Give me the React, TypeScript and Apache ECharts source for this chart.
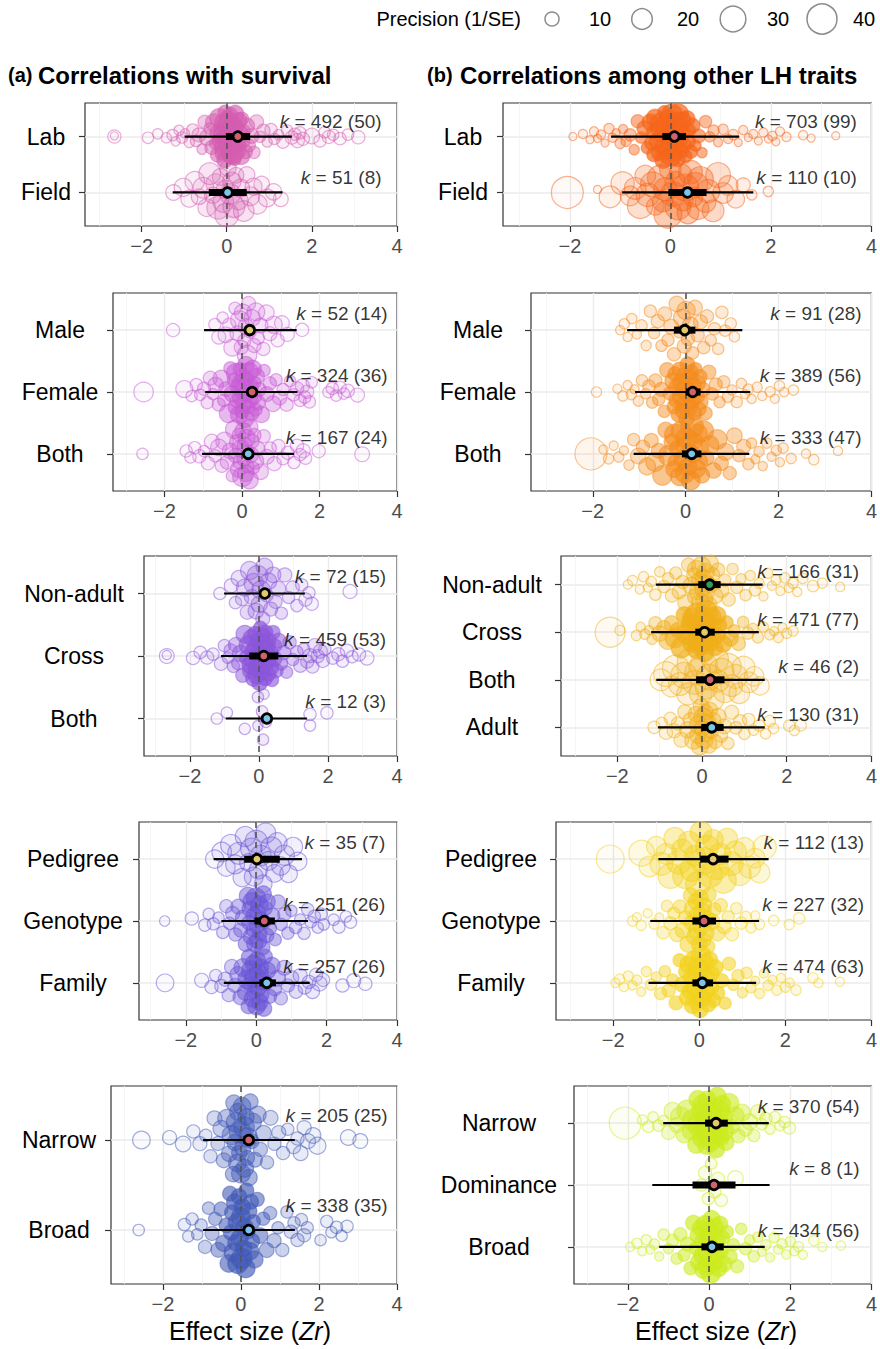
import React, { useEffect, useRef } from "react";
import * as echarts from "echarts";

// ---------------- DATA: [effect size Zr, precision 1/SE] ----------------
// (a) survival – study location
const survLocCats = ["Lab", "Field"];
const survLocK = [[492, 50], [51, 8]];
const survLocStats = [[0.26, -0.02, 0.55, -0.99, 1.53], [0.02, -0.42, 0.47, -1.27, 1.31]]; // mean, ciLo, ciHi, piLo, piHi
const survLab = [[-2.64,9],[-2.64,4],[-1.85,7],[-1.62,6],[-1.42,6],[-1.27,7],[-1.2,5],[-1.12,6],[-1.05,7],[-0.98,5],
 [-0.88,6],[-0.8,8],[-0.72,7],[-0.65,10],[-0.58,6],[-0.52,9],[-0.46,12],[-0.4,7],[-0.35,10],[-0.3,14],
 [-0.26,8],[-0.22,11],[-0.18,16],[-0.14,9],[-0.1,13],[-0.07,20],[-0.04,10],[-0.01,15],[0.02,12],[0.04,18],
 [0.07,9],[0.1,14],[0.13,22],[0.16,11],[0.19,8],[0.22,16],[0.26,12],[0.3,9],[0.34,14],[0.38,10],
 [0.42,7],[0.47,12],[0.52,9],[0.58,11],[0.64,8],[0.7,10],[0.78,7],[0.86,9],[0.95,6],[1.04,8],
 [1.12,7],[1.22,6],[1.32,8],[1.42,7],[1.53,9],[1.6,8],[1.66,10],[1.72,8],[1.79,9],[2.0,12],
 [2.19,8],[2.3,7],[2.4,9],[2.5,7],[2.66,8],[2.85,7],[3.09,9],
 [-0.21,11],[-0.15,13],[-0.12,9],[-0.05,12],[0,16],[0.01,10],[0.05,13],[0.08,11],[0.11,17],[0.14,9],[0.17,12],
 [0.2,14],[0.23,10],[0.28,13],[0.32,11],[0.36,9],[-0.08,15],[0.44,10]];
const survField = [[-1.25,12],[-1.02,16],[-0.88,14],[-0.75,18],[-0.65,12],[-0.55,20],[-0.47,15],[-0.4,22],[-0.33,13],[-0.26,18],
 [-0.2,24],[-0.14,14],[-0.08,20],[-0.03,16],[0,26],[0.03,13],[0.08,20],[0.12,16],[0.17,22],[0.22,12],
 [0.27,18],[0.33,15],[0.4,20],[0.47,13],[0.55,17],[0.63,14],[0.72,18],[0.82,12],[0.95,15],[1.1,13],[1.27,11]];

// (b) other LH traits – study location
const lhLocCats = ["Lab", "Field"];
const lhLocK = [[703, 99], [110, 10]];
const lhLocStats = [[0.08, -0.16, 0.31, -1.18, 1.37], [0.34, -0.04, 0.72, -0.96, 1.65]];
const lhLab = [[-1.94,4],[-1.74,5],[-1.6,4],[-1.52,5],[-1.45,4],[-1.38,5],[-1.3,4],[-1.22,6],[-1.15,5],[-1.08,4],[-1.0,6],[-0.94,5],
 [-0.88,6],[-0.8,8],[-0.72,6],[-0.65,9],[-0.58,7],[-0.52,11],[-0.46,8],[-0.4,13],[-0.35,9],[-0.3,15],[-0.25,10],[-0.2,18],
 [-0.16,12],[-0.12,9],[-0.08,20],[-0.04,14],[0,11],[0.03,22],[0.06,13],[0.1,16],[0.13,10],[0.16,19],[0.2,12],[0.24,15],
 [0.28,9],[0.33,13],[0.38,8],[0.44,11],[0.5,7],[0.56,10],[0.63,6],[0.7,8],[0.78,6],[0.86,7],[0.95,5],
 [1.05,6],[1.15,5],[1.25,6],[1.35,4],[1.45,5],[1.55,4],[1.65,5],[1.75,4],[1.85,5],[1.95,4],[2.03,5],[2.1,4],[2.18,5],[2.31,5],[2.64,5],[2.8,4],[3.29,4],
 [-0.22,12],[-0.18,10],[-0.14,14],[-0.1,11],[-0.06,16],[-0.02,12],[0.01,18],[0.05,10],[0.08,14],[0.11,12],[0.15,11],
 [0.18,13],[0.22,10],[0.26,12],[0.3,9],[-0.28,11],[0.36,10],[-0.33,10],[0.41,9],[-0.38,9]];
const lhField = [[-2.05,45],[-1.45,4],[-1.2,22],[-0.95,25],[-0.8,18],[-0.7,22],[-0.6,30],[-0.5,20],[-0.45,25],[-0.35,28],
 [-0.3,15],[-0.2,30],[-0.15,20],[-0.1,25],[-0.05,35],[0,22],[0.05,28],[0.1,18],[0.15,30],[0.2,24],[0.25,20],[0.3,32],
 [0.35,22],[0.4,26],[0.45,18],[0.5,28],[0.55,22],[0.6,30],[0.7,20],[0.75,25],[0.85,22],[0.95,28],[1.05,20],[1.15,18],
 [1.3,15],[1.45,10],[1.62,6],[1.95,6]];

// (a) survival – sex
const survSexCats = ["Male", "Female", "Both"];
const survSexK = [[52, 14], [324, 36], [167, 24]];
const survSexStats = [[0.2, 0.08, 0.32, -0.98, 1.41], [0.26, 0.14, 0.38, -0.95, 1.43], [0.16, 0.04, 0.28, -1.03, 1.34]];
const survMale = [[-1.78,9],[-0.7,8],[-0.6,10],[-0.5,7],[-0.42,12],[-0.33,9],[-0.25,14],[-0.18,8],[-0.12,11],[-0.06,16],
 [-0.02,10],[0.02,14],[0.06,9],[0.1,12],[0.13,18],[0.17,10],[0.21,8],[0.26,13],[0.31,10],[0.36,15],[0.42,8],[0.48,11],
 [0.55,9],[0.63,12],[0.72,10],[0.82,14],[0.92,9],[1.03,11],[1.17,10],[1.55,9]];
const survFemale = [[-2.54,18],[-1.49,14],[-1.3,7],[-1.18,8],[-1.08,7],[-0.98,9],
 [-0.9,8],[-0.82,10],[-0.75,7],[-0.68,12],[-0.6,9],[-0.53,14],[-0.47,8],[-0.41,11],[-0.35,16],[-0.3,9],[-0.25,13],
 [-0.2,10],[-0.15,18],[-0.1,12],[-0.06,9],[-0.02,15],[0.02,11],[0.06,20],[0.1,13],[0.14,9],[0.18,16],[0.23,11],
 [0.28,14],[0.33,8],[0.38,12],[0.44,10],[0.5,13],[0.57,8],[0.64,11],[0.72,9],[0.8,12],[0.88,8],[0.97,10],
 [1.06,8],[1.15,9],[1.24,7],[1.33,8],[1.42,9],[1.5,8],[1.56,10],[1.62,8],[1.68,9],[1.74,8],[1.8,7],
 [2.23,7],[2.33,8],[2.43,7],[2.53,8],[2.63,7],[2.73,9],[2.98,10],
 [-0.12,11],[-0.04,13],[0,10],[0.04,12],[0.08,15],[0.12,11],[0.16,9],[0.2,13],[0.25,10],[0.3,12],[0.35,9],[-0.08,14],[-0.18,10],[0.41,11]];
const survSexBoth = [[-2.57,7],[-1.44,8],[-1.33,7],[-1.22,8],[-1.1,9],[-0.98,7],[-0.88,9],[-0.78,11],[-0.69,8],[-0.6,13],
 [-0.52,9],[-0.45,15],[-0.38,10],[-0.31,12],[-0.25,8],[-0.19,16],[-0.13,11],[-0.08,9],[-0.03,14],[0.01,18],[0.05,10],
 [0.1,13],[0.14,9],[0.19,15],[0.24,11],[0.29,8],[0.35,13],[0.41,10],[0.48,12],[0.56,9],[0.64,11],[0.73,8],[0.83,10],
 [0.94,9],[1.06,8],[1.18,9],[1.34,8],[1.42,9],[1.5,8],[1.58,10],[1.64,8],[1.98,9],[3.1,11],
 [-0.1,12],[-0.05,10],[0.03,13],[0.07,11],[0.12,14],[0.16,9],[0.21,12],[0.26,10],[-0.16,11],[0.32,9]];

// (b) other LH traits – sex
const lhSexCats = ["Male", "Female", "Both"];
const lhSexK = [[91, 28], [389, 56], [333, 47]];
const lhSexStats = [[-0.02, -0.25, 0.21, -1.26, 1.22], [0.15, 0.0, 0.32, -1.09, 1.39], [0.13, -0.08, 0.34, -1.12, 1.37]];
const lhMale = [[-1.41,5],[-1.32,6],[-1.25,5],[-1.16,6],[-1.05,5],[-0.95,7],[-0.85,6],[-0.76,8],[-0.68,7],[-0.6,9],
 [-0.52,7],[-0.45,10],[-0.38,8],[-0.31,11],[-0.25,9],[-0.19,12],[-0.13,8],[-0.08,14],[-0.03,10],[0.01,16],[0.05,9],
 [0.1,12],[0.15,8],[0.2,11],[0.26,9],[0.32,10],[0.39,8],[0.46,9],[0.54,7],[0.62,8],[0.7,7],[0.78,8],[0.85,7],[0.97,7],[1.05,6]];
const lhFemale = [[-1.92,6],[-1.47,5],[-1.35,6],[-1.25,5],[-1.17,6],[-1.1,5],[-1.02,6],[-0.94,7],[-0.86,6],[-0.79,8],
 [-0.72,7],[-0.65,9],[-0.58,8],[-0.52,10],[-0.46,8],[-0.4,11],[-0.34,9],[-0.28,12],[-0.23,10],[-0.18,14],[-0.13,11],
 [-0.08,16],[-0.04,12],[0,18],[0.04,11],[0.08,15],[0.12,10],[0.16,13],[0.21,9],[0.26,12],[0.31,10],[0.37,11],[0.43,9],
 [0.5,10],[0.57,8],[0.65,9],[0.73,7],[0.82,8],[0.91,7],[1.0,6],[1.1,7],[1.2,6],[1.28,5],[1.35,6],[1.42,5],[1.54,6],
 [1.65,5],[1.82,6],[1.92,5],[2.02,6],[2.12,5],[2.32,6],
 [-0.15,12],[-0.1,14],[-0.06,11],[-0.02,15],[0.02,12],[0.06,16],[0.1,11],[0.14,13],[0.19,10],[0.24,12],[-0.2,11],[0.29,10],[-0.25,10],[0.34,9]];
const lhSexBoth = [[-2.04,45],[-1.77,5],[-1.66,6],[-1.55,5],[-1.44,6],[-1.33,5],[-1.22,6],[-1.12,8],[-1.02,12],[-0.92,9],
 [-0.83,14],[-0.74,10],[-0.66,16],[-0.58,11],[-0.5,18],[-0.43,12],[-0.36,20],[-0.29,13],[-0.22,22],[-0.16,14],[-0.1,18],
 [-0.04,12],[0.02,20],[0.08,14],[0.14,24],[0.2,12],[0.26,18],[0.32,13],[0.38,20],[0.45,11],[0.52,16],[0.6,12],[0.68,18],
 [0.77,10],[0.86,14],[0.95,9],[1.05,12],[1.15,8],[1.25,10],[1.35,7],[1.42,6],[1.5,5],[1.58,6],[1.66,5],[1.75,6],[1.85,5],
 [1.95,6],[2.03,5],[2.1,6],[2.27,6],[2.59,5],[2.76,6],[3.28,5],
 [-0.13,16],[-0.07,14],[-0.01,18],[0.05,15],[0.11,17],[0.17,13],[0.23,16],[-0.19,15],[0.29,14],[-0.25,13],[0.35,12]];

// (a) survival – age class
const survAgeCats = ["Non-adult", "Cross", "Both"];
const survAgeK = [[72, 15], [459, 53], [12, 3]];
const survAgeStats = [[0.17, 0.05, 0.3, -1.01, 1.33], [0.14, -0.28, 0.56, -1.1, 1.39], [0.23, 0.1, 0.36, -0.96, 1.39]];
const survNonadult = [[-1.13,8],[-0.8,10],[-0.68,8],[-0.58,12],[-0.49,9],[-0.41,14],[-0.34,10],[-0.27,16],[-0.21,11],
 [-0.15,18],[-0.09,12],[-0.04,20],[0.01,13],[0.06,16],[0.11,10],[0.16,14],[0.22,9],[0.28,13],[0.34,10],[0.41,12],
 [0.48,9],[0.56,11],[0.65,8],[0.75,10],[0.86,8],[0.98,9],[1.1,8],[1.24,8],[1.35,9],[1.45,8],[1.53,9],[2.64,10]];
const survCross = [[-2.67,11],[-2.67,5],[-1.91,9],[-1.7,8],[-1.5,9],[-1.33,8],[-1.1,9],[-1.0,8],[-0.9,7],[-0.82,9],
 [-0.74,8],[-0.67,11],[-0.6,9],[-0.53,13],[-0.47,10],[-0.41,15],[-0.35,11],[-0.3,17],[-0.25,12],[-0.2,19],[-0.15,13],
 [-0.1,21],[-0.06,14],[-0.02,18],[0.02,12],[0.06,22],[0.1,13],[0.14,17],[0.18,11],[0.23,15],[0.28,10],[0.33,14],
 [0.38,9],[0.44,12],[0.5,10],[0.57,11],[0.64,9],[0.72,10],[0.8,8],[0.89,9],[0.98,8],[1.1,8],[1.2,9],[1.3,8],[1.4,9],
 [1.48,10],[1.55,9],[1.62,10],[1.7,9],[1.78,10],[1.85,9],[1.91,8],[2.14,8],[2.3,9],[2.42,8],[2.55,9],[2.7,8],[2.9,9],[3.13,10],
 [-0.18,12],[-0.12,10],[-0.08,14],[-0.04,11],[0,15],[0.04,10],[0.08,13],[0.12,11],[0.16,16],[0.2,10],[0.25,12],
 [0.3,9],[0.35,11],[-0.22,13],[0.41,10],[0.47,9]];
const survAgeBoth = [[-1.22,7],[-0.93,7],[-0.41,7],[-0.03,7],[-0.03,6],[0.09,7],[0.12,7],[0.15,6],[0.2,7],[1.48,8],[1.48,7],[1.97,8]];

// (b) other LH traits – age class
const lhAgeCats = ["Non-adult", "Cross", "Both", "Adult"];
const lhAgeK = [[166, 31], [471, 77], [46, 2], [130, 31]];
const lhAgeStats = [[0.18, -0.09, 0.44, -1.09, 1.43], [0.06, -0.16, 0.3, -1.2, 1.34], [0.19, -0.14, 0.53, -1.08, 1.48], [0.23, -0.02, 0.51, -1.04, 1.48]];
const lhNonadult = [[-1.75,5],[-1.64,6],[-1.47,5],[-1.38,6],[-1.28,5],[-1.2,6],[-1.1,7],[-1.0,6],[-0.9,8],[-0.8,7],
 [-0.71,9],[-0.62,8],[-0.54,10],[-0.46,9],[-0.39,12],[-0.32,10],[-0.25,14],[-0.19,11],[-0.13,16],[-0.07,12],[-0.02,18],
 [0.03,13],[0.08,15],[0.13,11],[0.19,14],[0.25,10],[0.31,12],[0.38,9],[0.46,11],[0.54,8],[0.63,9],[0.72,7],[0.82,8],
 [0.92,6],[1.03,7],[1.14,6],[1.25,7],[1.35,6],[1.45,5],[1.55,6],[1.65,5],[1.75,6],[1.85,5],[1.95,6],[2.05,5],[2.15,6],
 [2.25,5],[2.38,6],[2.62,7],[2.84,6],[3.26,5],
 [-0.1,13],[-0.04,15],[0.01,12],[0.05,14],[0.1,11],[0.16,13],[0.22,10],[-0.16,12]];
const lhCross = [[-2.17,40],[-1.94,6],[-1.55,6],[-1.45,5],[-1.35,6],[-1.25,5],[-1.18,6],[-1.1,9],[-1.0,12],[-0.9,10],
 [-0.81,15],[-0.72,11],[-0.64,18],[-0.56,12],[-0.49,20],[-0.42,13],[-0.35,22],[-0.29,14],[-0.23,18],[-0.17,12],[-0.11,25],
 [-0.06,14],[0,20],[0.05,13],[0.1,22],[0.16,12],[0.22,18],[0.28,11],[0.35,16],[0.42,10],[0.5,14],[0.58,9],[0.67,12],
 [0.76,8],[0.86,10],[0.97,7],[1.08,8],[1.2,6],[1.32,7],[1.45,6],[1.6,6],[1.7,5],[1.8,6],[1.9,5],[2.0,6],[2.15,6],
 [-0.14,15],[-0.08,18],[-0.03,14],[0.02,19],[0.07,15],[0.13,17],[0.19,13],[0.25,15],[-0.2,14],[0.31,12],[-0.26,13],[0.38,11]];
const lhAgeBoth = [[-0.97,22],[-0.85,28],[-0.72,20],[-0.62,32],[-0.52,24],[-0.43,30],[-0.34,22],[-0.26,35],[-0.18,26],
 [-0.1,30],[-0.03,24],[0.04,34],[0.1,22],[0.17,30],[0.24,26],[0.31,32],[0.38,22],[0.46,28],[0.54,24],[0.62,30],[0.7,22],
 [0.79,26],[0.88,20],[0.98,24],[1.1,20],[1.23,18],[1.37,16]];
const lhAdult = [[-1.13,8],[-0.95,7],[-0.85,9],[-0.75,8],[-0.66,10],[-0.57,9],[-0.49,11],[-0.41,10],[-0.34,13],[-0.27,11],
 [-0.2,15],[-0.14,12],[-0.08,16],[-0.02,13],[0.03,18],[0.08,12],[0.13,15],[0.19,11],[0.25,14],[0.31,10],[0.38,12],
 [0.45,9],[0.53,11],[0.61,8],[0.7,10],[0.8,8],[0.9,9],[1.0,7],[1.1,8],[1.22,6],[1.35,7],[1.5,6],[1.6,7],[1.69,6],
 [2.06,7],[2.18,6],[2.33,7],
 [-0.05,14],[0,12],[0.05,15],[0.1,11],[0.16,13],[0.22,10],[-0.11,12]];

// (a) survival – relatedness
const survRelCats = ["Pedigree", "Genotype", "Family"];
const survRelK = [[35, 7], [251, 26], [257, 26]];
const survRelStats = [[0.02, -0.34, 0.67, -1.21, 1.3], [0.23, -0.05, 0.53, -0.99, 1.47], [0.3, 0.09, 0.56, -0.92, 1.52]];
const survPedigree = [[-1.18,16],[-0.98,18],[-0.85,15],[-0.72,20],[-0.6,17],[-0.5,22],[-0.4,16],[-0.31,19],[-0.22,15],
 [-0.14,21],[-0.07,17],[0,23],[0.06,16],[0.13,20],[0.2,15],[0.27,19],[0.35,17],[0.43,21],[0.52,15],[0.6,18],[0.7,16],
 [0.8,19],[0.92,15],[1.05,17],[1.18,16]];
const survGenotype = [[-2.6,6],[-1.83,9],[-1.46,8],[-1.35,7],[-1.22,8],[-1.07,7],[-0.95,8],[-0.85,9],[-0.76,8],[-0.67,10],
 [-0.59,9],[-0.51,11],[-0.44,10],[-0.37,12],[-0.3,11],[-0.24,14],[-0.18,12],[-0.12,16],[-0.06,13],[-0.01,18],[0.04,12],
 [0.09,15],[0.14,11],[0.2,13],[0.26,10],[0.32,12],[0.39,9],[0.46,11],[0.54,8],[0.62,10],[0.71,8],[0.8,9],[0.9,8],[1.0,7],
 [1.12,8],[1.25,7],[1.36,8],[1.46,8],[1.55,7],[1.65,8],[1.75,7],[1.85,8],[1.92,7],[2.2,7],[2.35,8],[2.55,7],[2.68,8],
 [-0.15,12],[-0.09,10],[-0.04,13],[0.01,11],[0.06,14],[0.11,10],[0.17,12],[0.23,9],[0.29,11],[-0.21,10]];
const survFamily = [[-2.59,15],[-1.55,10],[-1.27,9],[-1.15,8],[-0.99,9],[-0.88,10],[-0.78,9],[-0.69,11],[-0.6,10],[-0.52,13],
 [-0.45,11],[-0.38,15],[-0.31,12],[-0.25,17],[-0.19,13],[-0.13,19],[-0.07,14],[-0.02,20],[0.03,13],[0.08,17],[0.13,12],
 [0.19,15],[0.25,11],[0.31,14],[0.38,10],[0.45,13],[0.53,9],[0.61,12],[0.7,9],[0.8,11],[0.9,9],[1.01,10],[1.13,9],[1.25,10],
 [1.38,9],[1.5,9],[1.6,10],[1.7,9],[1.8,11],[1.9,9],[2.45,9],[2.77,10],[3.1,9],
 [-0.16,12],[-0.1,14],[-0.04,11],[0.01,15],[0.05,12],[0.1,13],[0.16,10],[0.22,12],[0.28,9],[-0.22,11]];

// (b) other LH traits – relatedness
const lhRelCats = ["Pedigree", "Genotype", "Family"];
const lhRelK = [[112, 13], [227, 32], [474, 63]];
const lhRelStats = [[0.32, 0.02, 0.68, -0.95, 1.61], [0.11, -0.16, 0.39, -1.14, 1.39], [0.07, -0.16, 0.32, -1.18, 1.32]];
const lhPedigree = [[-2.07,35],[-1.34,30],[-1.16,20],[-1.0,18],[-0.88,24],[-0.77,20],[-0.67,28],[-0.57,22],[-0.48,26],
 [-0.4,20],[-0.32,30],[-0.24,22],[-0.17,26],[-0.1,20],[-0.03,28],[0.04,22],[0.11,32],[0.18,24],[0.25,28],[0.32,20],
 [0.4,26],[0.48,22],[0.56,30],[0.65,20],[0.74,26],[0.84,22],[0.94,24],[1.05,20],[1.17,22],[1.3,18],[1.4,20],[1.52,25]];
const lhGenotype = [[-1.55,6],[-1.45,5],[-1.35,6],[-1.2,5],[-1.05,6],[-0.93,5],[-0.84,8],[-0.75,7],[-0.67,9],[-0.59,8],
 [-0.52,10],[-0.45,9],[-0.38,12],[-0.32,10],[-0.26,13],[-0.2,11],[-0.14,15],[-0.08,12],[-0.03,16],[0.02,13],[0.07,15],
 [0.12,11],[0.17,14],[0.23,10],[0.29,13],[0.35,9],[0.42,11],[0.5,9],[0.58,10],[0.67,8],[0.76,9],[0.86,7],[0.97,8],
 [1.08,7],[1.2,6],[1.3,5],[1.4,6],[1.73,6],[2.09,6],[2.32,7],
 [-0.11,13],[-0.05,14],[0,12],[0.05,15],[0.1,11],[0.15,13],[0.2,10],[-0.17,12]];
const lhFamily = [[-1.95,5],[-1.85,6],[-1.75,5],[-1.65,6],[-1.55,5],[-1.45,6],[-1.35,5],[-1.23,6],[-1.12,7],[-1.0,6],
 [-0.9,8],[-0.8,7],[-0.71,9],[-0.62,8],[-0.54,10],[-0.46,9],[-0.39,12],[-0.32,10],[-0.26,13],[-0.2,11],[-0.14,15],
 [-0.09,12],[-0.04,17],[0,13],[0.04,18],[0.08,12],[0.13,15],[0.18,11],[0.24,13],[0.3,10],[0.37,12],[0.44,9],[0.52,10],
 [0.6,8],[0.69,9],[0.79,7],[0.9,8],[1.0,6],[1.1,7],[1.2,6],[1.3,5],[1.4,6],[1.5,5],[1.6,6],[1.7,5],[1.8,6],[1.9,5],
 [2.0,6],[2.1,5],[2.25,6],[2.64,6],[2.77,5],[3.27,5],
 [-0.16,13],[-0.11,14],[-0.06,12],[-0.02,16],[0.02,13],[0.06,15],[0.1,12],[0.15,13],[0.21,11],[0.27,12],[-0.22,12],[0.33,10],[-0.29,11]];

// (a) survival – heritability
const survHerCats = ["Narrow", "Broad"];
const survHerK = [[205, 25], [338, 35]];
const survHerStats = [[0.2, 0.06, 0.34, -0.97, 1.38], [0.2, 0.06, 0.34, -0.97, 1.38]];
const survNarrow = [[-2.55,15],[-1.83,10],[-1.48,12],[-1.22,9],[-1.05,10],[-0.9,8],[-0.78,9],[-0.68,11],[-0.59,10],
 [-0.51,13],[-0.44,11],[-0.37,15],[-0.3,12],[-0.24,17],[-0.18,13],[-0.12,19],[-0.07,14],[-0.02,22],[0.03,15],[0.08,20],
 [0.13,13],[0.18,17],[0.24,12],[0.3,15],[0.36,11],[0.43,14],[0.5,10],[0.58,12],[0.67,9],[0.76,11],[0.86,9],[0.97,10],
 [1.08,9],[1.2,8],[1.35,10],[1.45,9],[1.53,11],[1.62,10],[1.72,11],[1.85,12],[1.96,14],[2.75,12],[3.06,11],
 [-0.15,13],[-0.09,15],[-0.04,12],[0,17],[0.05,13],[0.1,15],[0.16,11],[0.21,13],[-0.2,12],[0.27,11]];
const survBroad = [[-2.62,7],[-1.45,8],[-1.35,7],[-1.25,8],[-1.12,7],[-1.02,8],[-0.92,9],[-0.83,8],[-0.74,10],[-0.66,9],
 [-0.58,11],[-0.51,10],[-0.44,13],[-0.37,11],[-0.31,15],[-0.25,12],[-0.19,17],[-0.13,13],[-0.08,19],[-0.03,14],[0.02,20],
 [0.07,13],[0.12,17],[0.17,12],[0.23,15],[0.29,11],[0.35,14],[0.42,10],[0.49,12],[0.57,9],[0.66,11],[0.75,9],[0.85,10],
 [0.95,8],[1.06,9],[1.18,8],[1.28,9],[1.36,8],[1.45,9],[1.55,8],[1.62,9],[1.7,8],[2.04,7],[2.2,8],[2.32,7],[2.45,8],
 [2.58,7],[2.72,8],
 [-0.16,13],[-0.1,15],[-0.05,12],[0,17],[0.04,13],[0.09,15],[0.14,11],[0.2,13],[-0.22,12],[0.26,11],[0.32,10],[-0.28,11]];

// (b) other LH traits – heritability
const lhHerCats = ["Narrow", "Dominance", "Broad"];
const lhHerK = [[370, 54], [8, 1], [434, 56]];
const lhHerStats = [[0.17, -0.1, 0.46, -1.13, 1.47], [0.12, -0.41, 0.65, -1.4, 1.49], [0.07, -0.19, 0.36, -1.23, 1.37]];
const lhNarrow = [[-2.07,45],[-1.64,6],[-1.5,7],[-1.38,6],[-1.25,7],[-1.12,6],[-1.0,10],[-0.9,14],[-0.8,11],[-0.71,18],
 [-0.62,12],[-0.54,20],[-0.46,13],[-0.39,22],[-0.32,14],[-0.25,24],[-0.19,15],[-0.13,22],[-0.07,14],[-0.01,26],[0.05,15],
 [0.11,24],[0.17,14],[0.23,22],[0.29,13],[0.35,20],[0.42,12],[0.49,18],[0.56,11],[0.64,16],[0.72,10],[0.81,14],[0.9,9],
 [1.0,12],[1.1,8],[1.2,10],[1.3,7],[1.4,8],[1.5,6],[1.62,7],[1.75,6],[1.86,7],[1.98,8],
 [-0.16,18],[-0.1,20],[-0.04,16],[0.02,22],[0.08,17],[0.14,19],[0.2,15],[0.26,18],[-0.22,16],[0.32,14],[-0.28,15],[0.39,13]];
const lhDominance = [[-0.19,8],[-0.1,9],[-0.02,8],[0.05,7],[0.14,8],[0.22,9],[0.3,8],[0.65,12]];
const lhBroad = [[-1.95,5],[-1.78,6],[-1.65,5],[-1.55,6],[-1.45,5],[-1.35,6],[-1.23,5],[-1.12,7],[-1.0,6],[-0.9,8],
 [-0.8,7],[-0.71,9],[-0.62,8],[-0.54,10],[-0.46,9],[-0.39,12],[-0.32,10],[-0.26,13],[-0.2,11],[-0.14,15],[-0.09,12],
 [-0.04,17],[0,13],[0.04,18],[0.08,12],[0.13,15],[0.18,11],[0.24,13],[0.3,10],[0.37,12],[0.44,9],[0.52,10],[0.6,8],
 [0.69,9],[0.79,7],[0.9,8],[1.0,6],[1.1,7],[1.2,6],[1.3,5],[1.4,6],[1.5,5],[1.6,6],[1.7,5],[1.8,6],[1.9,5],[2.0,6],
 [2.1,5],[2.2,6],[2.31,5],[2.58,6],[2.79,5],[3.25,5],
 [-0.16,13],[-0.11,14],[-0.06,12],[-0.02,16],[0.02,13],[0.06,15],[0.1,12],[0.15,13],[0.21,11],[0.27,12],[-0.22,12],[0.33,10],[-0.29,11]];

// axis / legend values
const X_TICKS = [-2, 0, 2, 4];
const X_MINOR = [-3, -1, 1, 3];
const LEGEND_PREC = [10, 20, 30, 40];

// ---------------- STYLE ----------------
const FONT = '"Liberation Sans", Arial, Helvetica, sans-serif';
const X_MIN = -3.33;
const X_MAX = 4;
const SURV_COLORS = ["#D45DB0", "#C85BD5", "#8C56DA", "#6A56D6", "#4159B6"];
const LH_COLORS = ["#F5661B", "#F48C1E", "#F0AE19", "#F2D11E", "#CCEB1F"];
const MEAN_FILLS_FROM_BOTTOM = ["#7BC6E8", "#CF636C", "#E2C96A", "#2E9D5B"];

const PANELS = [
  { cats: survLocCats, groups: [survLab, survField], stats: survLocStats, k: survLocK, color: SURV_COLORS[0], grid: { left: 85, top: 103, width: 312, height: 123 }, lm: 39, kx: 3.65 },
  { cats: lhLocCats, groups: [lhLab, lhField], stats: lhLocStats, k: lhLocK, color: LH_COLORS[0], grid: { left: 503, top: 103, width: 374, height: 123 }, lm: 40, kx: 3.72 },
  { cats: survSexCats, groups: [survMale, survFemale, survSexBoth], stats: survSexStats, k: survSexK, color: SURV_COLORS[1], grid: { left: 113, top: 293, width: 284, height: 198 }, lm: 53, kx: 3.77 },
  { cats: lhSexCats, groups: [lhMale, lhFemale, lhSexBoth], stats: lhSexStats, k: lhSexK, color: LH_COLORS[1], grid: { left: 531, top: 293, width: 346, height: 198 }, lm: 53, kx: 3.8 },
  { cats: survAgeCats, groups: [survNonadult, survCross, survAgeBoth], stats: survAgeStats, k: survAgeK, color: SURV_COLORS[2], grid: { left: 144, top: 556, width: 253, height: 200 }, lm: 70, kx: 3.7 },
  { cats: lhAgeCats, groups: [lhNonadult, lhCross, lhAgeBoth, lhAdult], stats: lhAgeStats, k: lhAgeK, color: LH_COLORS[2], grid: { left: 561, top: 556, width: 316, height: 200 }, lm: 69, kx: 3.72 },
  { cats: survRelCats, groups: [survPedigree, survGenotype, survFamily], stats: survRelStats, k: survRelK, color: SURV_COLORS[3], grid: { left: 139, top: 822, width: 258, height: 198 }, lm: 66, kx: 3.68 },
  { cats: lhRelCats, groups: [lhPedigree, lhGenotype, lhFamily], stats: lhRelStats, k: lhRelK, color: LH_COLORS[3], grid: { left: 556, top: 822, width: 321, height: 198 }, lm: 65, kx: 3.84 },
  { cats: survHerCats, groups: [survNarrow, survBroad], stats: survHerStats, k: survHerK, color: SURV_COLORS[4], grid: { left: 111, top: 1086, width: 286, height: 198 }, lm: 52, kx: 3.77 },
  { cats: lhHerCats, groups: [lhNarrow, lhDominance, lhBroad], stats: lhHerStats, k: lhHerK, color: LH_COLORS[4], grid: { left: 574, top: 1086, width: 303, height: 198 }, lm: 75, kx: 3.72 },
];

// ---------------- HELPERS ----------------
function sizeOf(p: number) {
  return Math.max(4, -2 + 5.06 * Math.sqrt(p));
}
function rgba(hex: string, a: number) {
  const h = hex.replace("#", "");
  const r = parseInt(h.slice(0, 2), 16), g = parseInt(h.slice(2, 4), 16), b = parseInt(h.slice(4, 6), 16);
  return `rgba(${r},${g},${b},${a.toFixed(3)})`;
}
function vanDerCorput(i: number) {
  let q = 0, bk = 0.5, k = i;
  while (k > 0) { q += (k % 2) * bk; k = Math.floor(k / 2); bk /= 2; }
  return q;
}
// quasirandom (ggbeeswarm-style) layout: deterministic offsets scaled by kernel density
function swarmLayout(vals: number[], width = 0.46, adjust = 1.6) {
  const n = vals.length;
  if (n < 2) return { off: vals.map(() => 0), dr: vals.map(() => 1) };
  const mean = vals.reduce((s, v) => s + v, 0) / n;
  const sd = Math.sqrt(vals.reduce((s, v) => s + (v - mean) ** 2, 0) / (n - 1));
  const sorted = [...vals].sort((a, b) => a - b);
  const q = (p: number) => { const h = (n - 1) * p; const lo = Math.floor(h); const hi = Math.min(lo + 1, n - 1); return sorted[lo] + (h - lo) * (sorted[hi] - sorted[lo]); };
  const iqr = q(0.75) - q(0.25);
  let lo = Math.min(sd, iqr / 1.34);
  if (!(lo > 0)) lo = sd > 0 ? sd : 1;
  const bw = adjust * 0.9 * lo * Math.pow(n, -0.2);
  const dens = (x: number) => vals.reduce((s, v) => s + Math.exp(-0.5 * ((x - v) / bw) ** 2), 0);
  let maxD = 0;
  const a = sorted[0] - 3 * bw, b = sorted[n - 1] + 3 * bw;
  for (let i = 0; i <= 512; i++) maxD = Math.max(maxD, dens(a + ((b - a) * i) / 512));
  const order = vals.map((v, i) => i).sort((i, j) => vals[i] - vals[j] || i - j);
  const rank = new Array(n);
  order.forEach((idx, r) => { rank[idx] = r; });
  const dr = vals.map((v) => dens(v) / maxD);
  return { off: vals.map((v, i) => (vanDerCorput(rank[i] + 1) - 0.5) * 2 * width * dr[i]), dr };
}
const fmtX = (v: number) => (v < 0 ? "\u2212" + Math.abs(v) : String(v));

function buildOption() {
  const grid: any[] = [], xAxis: any[] = [], yAxis: any[] = [], series: any[] = [];
  PANELS.forEach((P, p) => {
    const n = P.cats.length;
    const catVals = P.cats.map((_, i) => i + 1);
    grid.push({ ...P.grid, show: true, borderColor: "#333333", borderWidth: 1.2, backgroundColor: "#ffffff", containLabel: false });
    xAxis.push({
      gridIndex: p, type: "value", min: X_MIN, max: X_MAX,
      axisLine: { show: false, onZero: false },
      splitLine: { show: false },
      axisTick: { show: true, customValues: X_TICKS, length: 6, lineStyle: { color: "#333333", width: 1.2 } },
      axisLabel: { customValues: X_TICKS, formatter: fmtX, color: "#4D4D4D", fontSize: 20, lineHeight: 20, fontFamily: FONT, margin: 10 },
    });
    yAxis.push({
      gridIndex: p, type: "value", min: 0.4, max: n + 0.6, inverse: true,
      axisLine: { show: false, onZero: false },
      splitLine: { show: false },
      axisTick: { show: true, customValues: catVals, length: 6, lineStyle: { color: "#333333", width: 1.2 } },
      axisLabel: { customValues: catVals, formatter: (v: number) => P.cats[Math.round(v) - 1] ?? "", align: "center", margin: P.lm, color: "#000000", fontSize: 23, fontFamily: FONT },
    });
    // grid lines
    series.push({
      type: "line", xAxisIndex: p, yAxisIndex: p, data: [], silent: true,
      markLine: {
        silent: true, symbol: ["none", "none"], z: 1, animation: false, label: { show: false },
        emphasis: { disabled: true },
        data: [
          ...X_MINOR.map((v) => ({ xAxis: v, lineStyle: { color: "#F3F3F3", width: 0.8, type: "solid" } })),
          ...X_TICKS.map((v) => ({ xAxis: v, lineStyle: { color: "#EBEBEB", width: 1.4, type: "solid" } })),
          ...catVals.map((v) => ({ yAxis: v, lineStyle: { color: "#EBEBEB", width: 1.6, type: "solid" } })),
        ],
      },
    });
    // points (beeswarm); each drawn point stands for k/n effect sizes, so its fill
    // opacity grows with local overlap (density) to mimic the stacked rings
    P.groups.forEach((g, i) => {
      const { off, dr } = swarmLayout(g.map((d) => d[0]));
      const w = P.k[i][0] / g.length;
      series.push({
        type: "scatter", xAxisIndex: p, yAxisIndex: p, z: 2, clip: true, silent: true, symbol: "circle",
        symbolSize: (v: number[]) => sizeOf(v[2]),
        data: g.map((d, j) => ({
          value: [d[0], i + 1 + off[j], d[1]],
          itemStyle: { color: rgba(P.color, Math.min(0.88, 0.03 + 0.14 * w * Math.pow(dr[j], 1.5))) },
        })),
        itemStyle: { borderColor: rgba(P.color, 0.62), borderWidth: 1.2 },
      });
    });
    // zero line
    series.push({
      type: "line", xAxisIndex: p, yAxisIndex: p, data: [], silent: true,
      markLine: {
        silent: true, symbol: ["none", "none"], z: 3, animation: false, label: { show: false },
        data: [{ xAxis: 0, lineStyle: { color: "#555555", width: 1.6, type: [6, 4] } }],
      },
    });
    // summary: prediction interval, confidence interval, mean
    series.push({
      type: "custom", xAxisIndex: p, yAxisIndex: p, z: 4, silent: true,
      data: P.stats.map((s, i) => [...s, i + 1]),
      encode: { x: [0, 1, 2, 3, 4], y: 5 },
      renderItem: (params: any, api: any) => {
        const y = api.value(5);
        const idx = Math.round(y) - 1;
        const pl = api.coord([api.value(3), y]), ph = api.coord([api.value(4), y]);
        const cl = api.coord([api.value(1), y]), ch = api.coord([api.value(2), y]);
        const m = api.coord([api.value(0), y]);
        return {
          type: "group",
          children: [
            { type: "line", shape: { x1: pl[0], y1: pl[1], x2: ph[0], y2: ph[1] }, style: { stroke: "#000", lineWidth: 2.2 } },
            { type: "line", shape: { x1: cl[0], y1: cl[1], x2: ch[0], y2: ch[1] }, style: { stroke: "#000", lineWidth: 7 } },
            { type: "circle", shape: { cx: m[0], cy: m[1], r: 4.8 }, style: { fill: MEAN_FILLS_FROM_BOTTOM[n - 1 - idx], stroke: "#000", lineWidth: 2.8 } },
          ],
        };
      },
    });
    // k labels
    series.push({
      type: "scatter", xAxisIndex: p, yAxisIndex: p, z: 6, silent: true, clip: false, symbolSize: 1,
      itemStyle: { color: "rgba(0,0,0,0)" },
      data: P.k.map((kk, i) => ({ value: [P.kx, i + 1 - 0.27], label: { formatter: `{i|k} = ${kk[0]} (${kk[1]})` } })),
      label: {
        show: true, position: "left", distance: 0, color: "#000", fontSize: 19, fontFamily: FONT,
        rich: { i: { fontStyle: "italic", fontSize: 19, fontFamily: FONT, color: "#000" } },
      },
    });
  });

  const legendX = [552, 642, 733, 822];
  const legendTX = [600, 688, 778, 864];
  const graphic: any[] = [
    { type: "text", x: 8, y: 75, style: { text: "(a)", fontSize: 20, fontWeight: "bold", fontFamily: FONT, fill: "#000", textAlign: "left", textVerticalAlign: "middle" } },
    { type: "text", x: 38, y: 75, style: { text: "Correlations with survival", fontSize: 24, fontWeight: "bold", fontFamily: FONT, fill: "#000", textAlign: "left", textVerticalAlign: "middle" } },
    { type: "text", x: 427, y: 75, style: { text: "(b)", fontSize: 20, fontWeight: "bold", fontFamily: FONT, fill: "#000", textAlign: "left", textVerticalAlign: "middle" } },
    { type: "text", x: 460, y: 75, style: { text: "Correlations among other LH traits", fontSize: 24, fontWeight: "bold", fontFamily: FONT, fill: "#000", textAlign: "left", textVerticalAlign: "middle" } },
    { type: "text", x: 521, y: 19, style: { text: "Precision (1/SE)", fontSize: 20, fontFamily: FONT, fill: "#000", textAlign: "right", textVerticalAlign: "middle" } },
    ...LEGEND_PREC.map((pv, i) => ({ type: "circle", shape: { cx: legendX[i], cy: 19, r: sizeOf(pv) / 2 }, style: { fill: "none", stroke: "#8C8C8C", lineWidth: 1.5 } })),
    ...LEGEND_PREC.map((pv, i) => ({ type: "text", x: legendTX[i], y: 19, style: { text: String(pv), fontSize: 20, fontFamily: FONT, fill: "#000", textAlign: "center", textVerticalAlign: "middle" } })),
    { type: "text", x: 250, y: 1331, style: { text: "Effect size ({i|Zr})", fontSize: 25, fontFamily: FONT, fill: "#000", textAlign: "center", textVerticalAlign: "middle", rich: { i: { fontStyle: "italic", fontSize: 25, fontFamily: FONT } } } },
    { type: "text", x: 716, y: 1331, style: { text: "Effect size ({i|Zr})", fontSize: 25, fontFamily: FONT, fill: "#000", textAlign: "center", textVerticalAlign: "middle", rich: { i: { fontStyle: "italic", fontSize: 25, fontFamily: FONT } } } },
  ];

  return { animation: false, backgroundColor: "#ffffff", grid, xAxis, yAxis, series, graphic };
}

export default function App() {
  const ref = useRef<HTMLDivElement>(null);
  useEffect(() => {
    if (!ref.current) return;
    const chart = echarts.init(ref.current, undefined, { renderer: "svg" });
    chart.setOption(buildOption() as any);
    return () => chart.dispose();
  }, []);
  return <div ref={ref} style={{ position: "absolute", left: 0, top: 0, width: 880, height: 1349 }} />;
}
